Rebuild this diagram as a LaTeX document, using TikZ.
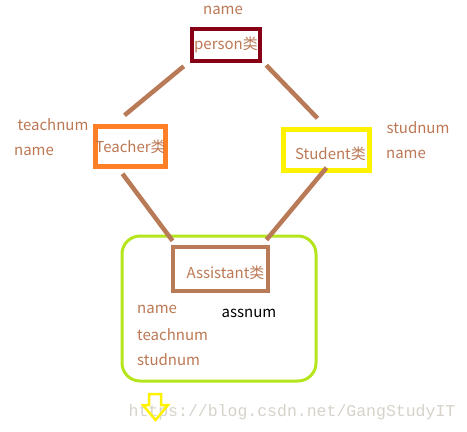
\documentclass[tikz,border=0pt]{standalone}
\usepackage{fontspec}
\setmainfont{Noto Sans CJK SC}
\newfontfamily\wmfont{Liberation Mono}
\definecolor{txtbrown}{RGB}{188,120,84}
\definecolor{linebrown}{RGB}{185,122,87}
\definecolor{darkred}{RGB}{136,0,21}
\definecolor{orangeb}{RGB}{255,127,39}
\definecolor{yellowb}{RGB}{255,242,0}
\definecolor{limeg}{RGB}{181,230,29}
\definecolor{wmgray}{RGB}{214,210,202}
\begin{document}
\begin{tikzpicture}[x=1pt,y=-1pt,
  lbl/.style={font=\fontsize{15}{17}\selectfont,text=txtbrown,inner sep=0pt},
  cls/.style={draw,line width=4.5pt,inner sep=0pt,font=\fontsize{15}{17}\selectfont,text=txtbrown},
  link/.style={draw=linebrown,line width=4.5pt}]
\useasboundingbox (0,0) rectangle (467,432);
% group box
\draw[limeg,line width=3pt,rounded corners=18pt] (122,236) rectangle (316,381);
% class boxes
\node[cls,draw=darkred,minimum width=68pt,minimum height=32pt] (person) at (226,45) {person类};
\node[cls,draw=orangeb,minimum width=66pt,minimum height=40pt] (teacher) at (130.5,146.5) {Teacher类};
\node[cls,draw=yellowb,minimum width=86pt,minimum height=41pt] (student) at (326.5,150) {\hspace*{8pt}\raisebox{-9.5pt}[0pt][0pt]{Student类}};
\node[cls,draw=linebrown,minimum width=95pt,minimum height=44pt] (assistant) at (220.5,269) {\hspace*{10pt}\raisebox{-9.5pt}[0pt][0pt]{Assistant类}};
% connectors
\draw[link] ([shift={(-6,3)}]person.south west) -- ([shift={(-6,-9)}]teacher.north);
\draw[link] ([shift={(4,2)}]person.south east) -- ([shift={(-9,-9)}]student.north);
\draw[link] ([shift={(-8,5)}]teacher.south) -- ([shift={(-48,-4)}]assistant.north);
\draw[link] ([yshift=5pt]student.south) -- ([shift={(46,-5)}]assistant.north);
% labels
\node[lbl] (ptop) at (223,10) {name};
\node[lbl] (tnum) at (53,125) {teachnum};
\node[lbl] (tname) at (34,151) {name};
\node[lbl] (snum) at (418,128) {studnum};
\node[lbl] (sname) at (406,154) {name};
\node[lbl,anchor=west] (aname) at (137,309) {name};
\node[lbl,anchor=west] (ateach) at (137,335) {teachnum};
\node[lbl,anchor=west] (astud) at (137,360) {studnum};
\node[lbl,text=black] (anum) at (249,313) {assnum};
% watermark
\node[inner sep=0pt,text=wmgray,font=\wmfont\fontsize{16.5}{18}\selectfont] (wm) at (292,412) {https://blog.csdn.net/GangStudyIT};
% arrow
\draw[yellowb,line width=2.5pt,line join=miter] (149,394) -- (161,394) -- (161,405) -- (168,405) -- (155.5,420) -- (143,405) -- (149,405) -- cycle;
\end{tikzpicture}
\end{document}
